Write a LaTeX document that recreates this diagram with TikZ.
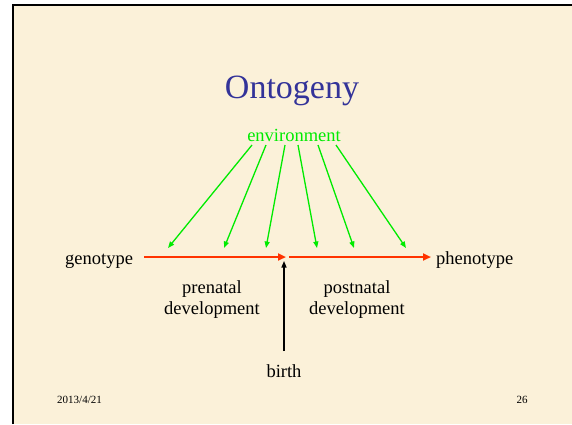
\documentclass[tikz,border=0pt]{standalone}
\usepackage{fontspec}
\setmainfont{Liberation Serif}
\usetikzlibrary{arrows.meta}
\definecolor{bg}{RGB}{251,241,217}
\definecolor{titleblue}{RGB}{51,51,153}
\definecolor{envgreen}{RGB}{0,235,0}
\definecolor{devred}{RGB}{255,51,0}
\tikzset{
  lbl/.style={inner sep=0pt, anchor=base, font=\fontsize{18.5}{21}\selectfont},
  envarrow/.style={draw=envgreen, line width=1.3pt, -{Triangle[length=6.5pt,width=5pt]}},
  redarrow/.style={draw=devred, line width=2pt, -{Triangle[length=8pt,width=7pt]}},
  birtharrow/.style={draw=black, line width=1.3pt, -{Triangle[length=6.5pt,width=5pt]}},
  foot/.style={inner sep=0pt, anchor=base, font=\fontsize{11}{13}\selectfont}
}
\begin{document}
\begin{tikzpicture}[x=1pt,y=-1pt]
\useasboundingbox (0,0) rectangle (572,424);
\fill[white] (0,0) rectangle (572,424);
\fill[bg] (13,5) rectangle (572,424);
\draw[black, line width=2pt] (13,424) -- (13,5) -- (572,5);

\node[inner sep=0pt, anchor=base, text=titleblue, font=\fontsize{34}{40}\selectfont] (title) at (292,98) {Ontogeny};

\node[lbl, text=envgreen] (env) at (294,141) {environment};
\node[lbl, anchor=base west] (geno) at (65,264) {genotype};
\node[lbl, anchor=base west] (pheno) at (436,264) {phenotype};
\node[lbl, align=center] (pre) at (212,314) {prenatal\\development};
\node[lbl, align=center] (post) at (357,314) {postnatal\\development};
\node[lbl] (birth) at (284,377) {birth};

\node[foot, anchor=base west] (date) at (57,403) {2013/4/21};
\node[foot] (page) at (522,403) {26};

% environment arrows
\coordinate (s1) at (252,145); \coordinate (e1) at (168,248);
\coordinate (s2) at (266,145); \coordinate (e2) at (224,248);
\coordinate (s3) at (285,145); \coordinate (e3) at (266,248);
\coordinate (s4) at (298,145); \coordinate (e4) at (317,248);
\coordinate (s5) at (318,145); \coordinate (e5) at (354,248);
\coordinate (s6) at (336,145); \coordinate (e6) at (406,248);
\foreach \i in {1,...,6} \draw[envarrow] (s\i) -- (e\i);

% development arrows
\coordinate (r1s) at (144,257); \coordinate (r1e) at (286,257);
\coordinate (r2s) at (289,257); \coordinate (r2e) at (431,257);
\draw[redarrow] (r1s) -- (r1e);
\draw[redarrow] (r2s) -- (r2e);

% birth arrow
\coordinate (bt) at (284,261);
\draw[birtharrow] (284,351) -- (bt);
\end{tikzpicture}
\end{document}
